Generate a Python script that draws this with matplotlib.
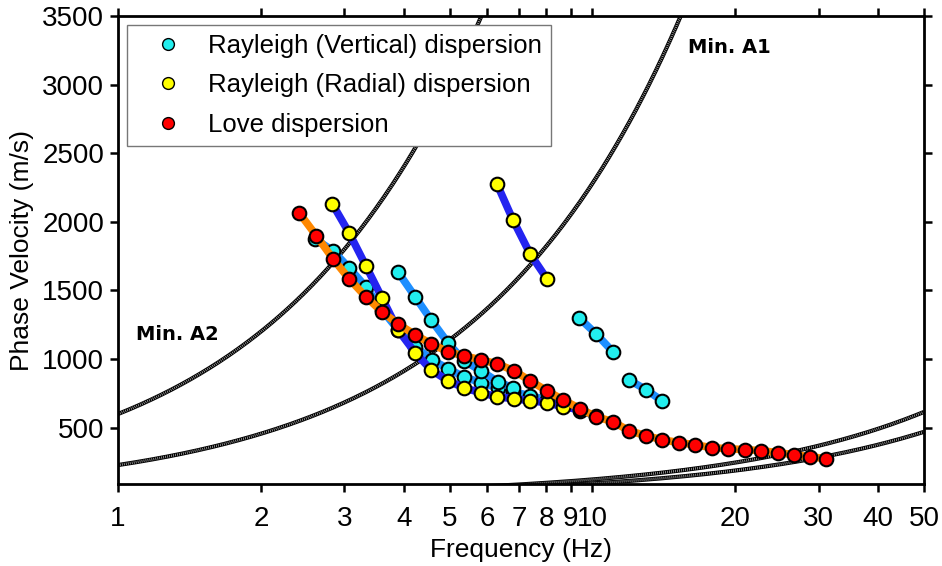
import numpy as np
import matplotlib
matplotlib.use("Agg")
import matplotlib.pyplot as plt
from matplotlib.ticker import FixedLocator, NullLocator

plt.rcParams['font.family'] = ['Liberation Sans', 'DejaVu Sans']

# Rayleigh (vertical) dispersion, one list per mode
rv_f = [
    [2.60, 2.84, 3.07, 3.33, 3.60, 3.89, 4.23, 4.59, 4.96, 5.36, 5.82, 6.32,
     6.80, 7.39, 8.02, 8.67, 9.42, 10.18],
    [3.89, 4.23, 4.57, 4.96, 5.36, 5.82, 6.32, 6.80],
    [9.37, 10.18, 11.05],
    [11.94, 12.97, 14.02],
]
rv_v = [
    [1876, 1789, 1665, 1527, 1359, 1214, 1090, 995, 930, 871, 828, 791,
     762, 733, 704, 667, 624, 587],
    [1636, 1454, 1286, 1119, 988, 915, 835, 791],
    [1301, 1184, 1053],
    [849, 777, 697],
]

# Rayleigh (radial) dispersion
rr_f = [
    [2.83, 3.07, 3.33, 3.60, 3.89, 4.23, 4.57, 4.96, 5.36, 5.82, 6.29, 6.84,
     7.39, 8.02, 8.67, 9.42],
    [6.29, 6.80, 7.39, 8.02],
]
rr_v = [
    [2131, 1920, 1680, 1447, 1214, 1046, 922, 842, 791, 755, 726, 711,
     697, 682, 653, 631],
    [2277, 2014, 1767, 1585],
]

# Love dispersion
lv_f = [2.41, 2.62, 2.84, 3.07, 3.33, 3.60, 3.89, 4.23, 4.57, 4.96, 5.36, 5.82,
        6.29, 6.84, 7.39, 8.02, 8.67, 9.42, 10.18, 11.05, 11.94, 12.97, 14.02,
        15.23, 16.46, 17.87, 19.32, 20.98, 22.67, 24.62, 26.61, 28.76, 31.08]
lv_v = [2065, 1898, 1730, 1585, 1454, 1345, 1257, 1177, 1112, 1053, 1024, 995,
        966, 915, 842, 769, 704, 638, 580, 544, 478, 442, 413, 391, 376, 354,
        347, 340, 333, 318, 303, 289, 274]

# array resolution limits as wavelengths (m): v = wavelength * f
limit_wavelengths = [600, 228, 12.3, 9.4]

xticks = [1, 2, 3, 4, 5, 6, 7, 8, 9, 10, 20, 30, 40, 50]
yticks = [500, 1000, 1500, 2000, 2500, 3000, 3500]

fig = plt.figure(figsize=(9.42, 5.66), dpi=100)
ax = fig.add_axes([0.1253, 0.1449, 0.8556, 0.8268])
ax.set_xscale('log')
ax.set_xlim(1, 50)
ax.set_ylim(90, 3500)

fgrid = np.geomspace(1, 50, 600)
for wl in limit_wavelengths:
    ax.plot(fgrid, wl * fgrid, color='black', lw=3.0, zorder=2,
            solid_capstyle='butt')
    ax.plot(fgrid, wl * fgrid, color='#c8c8c8', lw=1.8, zorder=2.1,
            linestyle=(0, (0.25, 0.55)))

mk = dict(marker='o', markersize=9.8, markeredgecolor='black',
          markeredgewidth=1.5, solid_capstyle='round')

for f, v in zip(rv_f, rv_v):
    ax.plot(f, v, color='#1e8fff', lw=5.5, markerfacecolor='#22eeee', zorder=3, **mk)
for f, v in zip(rr_f, rr_v):
    ax.plot(f, v, color='#2424f0', lw=5.5, markerfacecolor='#ffff00', zorder=4, **mk)
ax.plot(lv_f, lv_v, color='#ff8800', lw=5.5, markerfacecolor='#ff0000', zorder=5, **mk)

# legend handles (markers only)
h1, = ax.plot([], [], 'o', markerfacecolor='#22eeee', markeredgecolor='black', markersize=8.5)
h2, = ax.plot([], [], 'o', markerfacecolor='#ffff00', markeredgecolor='black', markersize=8.5)
h3, = ax.plot([], [], 'o', markerfacecolor='#ff0000', markeredgecolor='black', markersize=8.5)
leg = ax.legend([h1, h2, h3],
                ['Rayleigh (Vertical) dispersion', 'Rayleigh (Radial) dispersion',
                 'Love dispersion'],
                loc='upper left', bbox_to_anchor=(0.011, 0.981), fontsize=18.5,
                fancybox=False, framealpha=1, edgecolor='#777777',
                handlelength=2.5, handletextpad=0.3, labelspacing=0.6,
                borderpad=0.35, borderaxespad=0)
leg.get_frame().set_linewidth(1.0)
leg.set_zorder(10)

ax.text(15.9, 3274, 'Min. A1', fontsize=14, fontweight='bold',
        family='DejaVu Sans', va='center', ha='left')
ax.text(1.09, 1177, 'Min. A2', fontsize=14, fontweight='bold',
        family='DejaVu Sans', va='center', ha='left')

ax.xaxis.set_major_locator(FixedLocator(xticks))
ax.xaxis.set_minor_locator(NullLocator())
ax.set_xticklabels([str(t) for t in xticks])
ax.set_yticks(yticks)

for s in ax.spines.values():
    s.set_linewidth(2.0)
ax.tick_params(axis='both', which='major', direction='out', length=6, width=1.8,
               labelsize=20, top=True, right=True)
ax.tick_params(axis='x', pad=10)
ax.tick_params(axis='y', pad=4)

ax.set_xlabel('Frequency (Hz)', fontsize=19, labelpad=4)
ax.set_ylabel('Phase Velocity (m/s)', fontsize=19, labelpad=6)

fig.savefig('out.png', dpi=100)
